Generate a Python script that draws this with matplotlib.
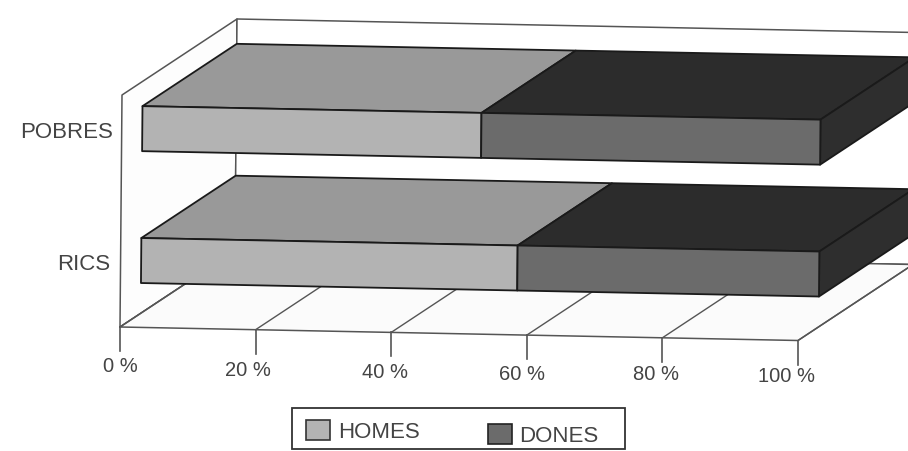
import matplotlib
matplotlib.use('Agg')
import matplotlib.pyplot as plt
from matplotlib.patches import Polygon, Rectangle

# --- Data ---
categories = ["RICS", "POBRES"]
homes = [55.5, 50]
dones = [44.5, 50]
x_ticks = [0, 20, 40, 60, 80, 100]
tick_labels = ["0 %", "20 %", "40 %", "60 %", "80 %", "100 %"]

# --- Fake 3D geometry, in image pixels ---
ORIGIN = (120, 327)
X_VEC = (6.78, 0.135)   # per percent
Z_VEC = (2, -232)       # floor to top of wall
D_VEC = (115, -76)      # front to back
BAR_FRONT = 0.18
BAR_HEIGHT = 0.194
ROW_BASE = 0.1306
ROW_STEP = 0.5684

EDGE = '#1a1a1a'
LINE = '#555555'
TEXT = '#444444'
HOMES_FRONT, HOMES_TOP = '#b3b3b3', '#999999'
DONES_FRONT, DONES_TOP, DONES_SIDE = '#6b6b6b', '#2c2c2c', '#2e2e2e'

plt.rcParams['font.family'] = ['Liberation Sans', 'DejaVu Sans']


def project(pct, z=0.0, depth=0.0):
    """Maps percent / height / depth on to image pixels."""
    return (ORIGIN[0] + pct * X_VEC[0] + z * Z_VEC[0] + depth * D_VEC[0],
            ORIGIN[1] + pct * X_VEC[1] + z * Z_VEC[1] + depth * D_VEC[1])


def face(ax, pts, color, edge=EDGE, lw=1.3, zorder=2):
    ax.add_patch(Polygon(pts, closed=True, facecolor=color, edgecolor=edge,
                         linewidth=lw, joinstyle='round', zorder=zorder))


def draw_segment(ax, start, end, z0, front, top, side=None):
    z1 = z0 + BAR_HEIGHT
    d0, d1 = BAR_FRONT, 1.0
    face(ax, [project(start, z1, d0), project(end, z1, d0),
              project(end, z1, d1), project(start, z1, d1)], top)
    if side:
        face(ax, [project(end, z0, d0), project(end, z1, d0),
                  project(end, z1, d1), project(end, z0, d1)], side)
    face(ax, [project(start, z0, d0), project(end, z0, d0),
              project(end, z1, d0), project(start, z1, d0)], front)


fig = plt.figure(figsize=(9.08, 4.51), dpi=100, facecolor='white')
ax = fig.add_axes([0, 0, 1, 1])
ax.set_xlim(0, 908)
ax.set_ylim(451, 0)
ax.axis('off')

# Side wall, back wall and floor
face(ax, [project(0), project(0, 1), project(0, 1, 1), project(0, 0, 1)],
     '#fdfdfd', edge=LINE, lw=1.1, zorder=1)
face(ax, [project(0, 0, 1), project(0, 1, 1), project(100, 1, 1), project(100, 0, 1)],
     '#ffffff', edge=LINE, lw=1.1, zorder=1)
face(ax, [project(0), project(100), project(100, 0, 1), project(0, 0, 1)],
     '#fbfbfb', edge=LINE, lw=1.1, zorder=1)

# Grid on the floor, ticks and their labels
label_x = [120, 248, 385, 522, 656, 786]
label_y = [367, 370, 372, 374, 375, 377]
for t, lab, lx, ly in zip(x_ticks, tick_labels, label_x, label_y):
    x0, y0 = project(t)
    x1, y1 = project(t, 0, 1)
    ax.plot([x0, x1], [y0, y1], color=LINE, lw=1.0, zorder=1.5)
    ax.plot([x0, x0], [y0, y0 + 24], color=LINE, lw=1.2, zorder=1.5)
    ax.text(lx, ly, lab, ha='center', va='center', fontsize=14.5, color=TEXT)

# Bars, back row first
for row in reversed(range(len(categories))):
    z0 = ROW_BASE + row * ROW_STEP
    draw_segment(ax, 0, homes[row], z0, HOMES_FRONT, HOMES_TOP)
    draw_segment(ax, homes[row], homes[row] + dones[row], z0,
                 DONES_FRONT, DONES_TOP, DONES_SIDE)

cat_x = [110, 113]
cat_y = [265, 133]
for name, cx, cy in zip(categories, cat_x, cat_y):
    ax.text(cx, cy, name, ha='right', va='center', fontsize=16, color=TEXT)

# Legend box
ax.add_patch(Rectangle((292, 408), 333, 41, facecolor='white', edgecolor='#333333',
                       linewidth=1.3, zorder=3))
ax.add_patch(Rectangle((306, 420), 24, 20, facecolor=HOMES_FRONT, edgecolor='#333333',
                       linewidth=1.2, zorder=4))
ax.add_patch(Rectangle((488, 424), 24, 20, facecolor=DONES_FRONT, edgecolor='#222222',
                       linewidth=1.2, zorder=4))
ax.text(338, 432, "HOMES", ha='left', va='center', fontsize=16, color=TEXT, zorder=4)
ax.text(519, 436, "DONES", ha='left', va='center', fontsize=16, color=TEXT, zorder=4)

fig.savefig('out.png', dpi=100)
